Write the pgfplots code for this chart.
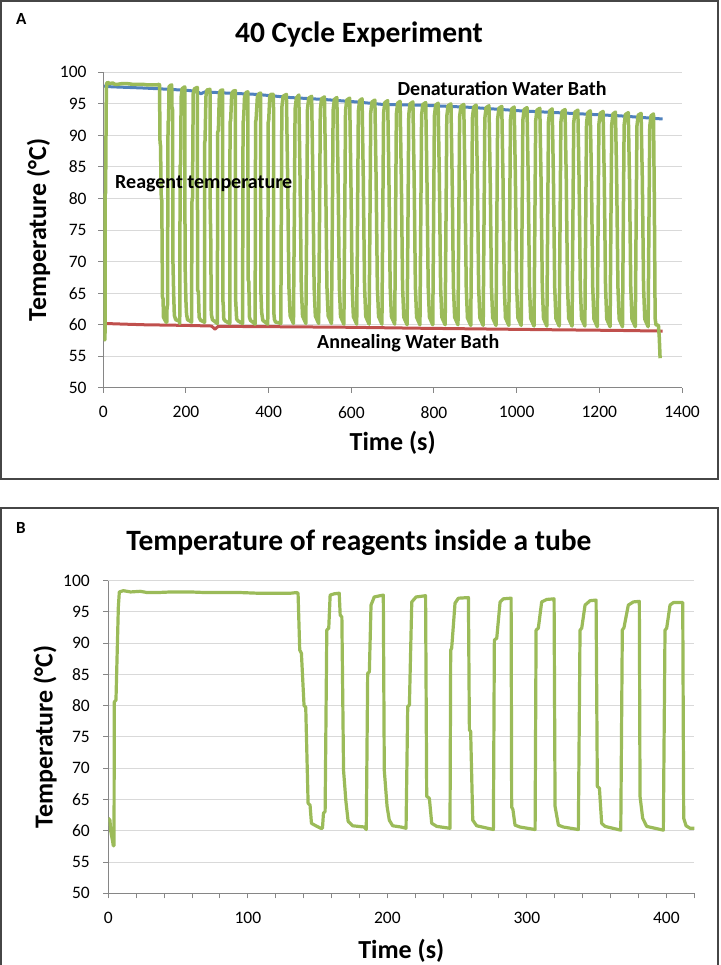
\documentclass[border=0pt]{standalone}
\usepackage{fontspec}
\setmainfont{Carlito}
\usepackage{pgfplots}
\pgfplotsset{compat=1.18}
\usepackage{pgfplotstable}
\definecolor{exgreen}{RGB}{155,187,89}
\definecolor{exblue}{RGB}{79,129,189}
\definecolor{exred}{RGB}{192,80,77}
\definecolor{gridgray}{RGB}{217,217,217}
\definecolor{axgray}{RGB}{134,134,134}
\definecolor{framegray}{RGB}{70,70,70}

\pgfplotstableread{
t T
0 62.0
1.2 61.7
1.7 60.0
3.1 58.3
3.6 57.6
4.1 57.6
4.3 80.6
5.5 80.9
7.2 95.8
7.9 98.2
10.8 98.4
16 98.2
22.8 98.3
28 98.1
34.8 98.1
45 98.2
58.8 98.2
70 98.1
82.7 98.1
95 98.1
106.7 98.0
120 98.0
130.7 98.0
135 98.1
136 98.0
137.2 88.9
138.4 88.4
140.3 80.0
141.5 79.8
143.2 64.4
144.6 64.1
145.6 61.2
148.7 60.8
152.3 60.4
153.5 60.4
154.2 62.8
155.4 63.1
156.6 92.1
158.0 92.4
159.0 97.7
161.9 97.9
165.5 98.0
166.2 94.5
167.4 94.2
168.6 69.7
170.3 64.7
171.9 61.5
175.1 60.8
183.5 60.6
184.9 60.2
185.9 85.2
187.1 85.4
188.3 96.1
190.6 97.4
197.1 97.7
197.8 69.7
199.8 63.9
201.4 61.7
203.8 60.8
209.8 60.6
213.4 60.4
214.6 79.9
215.8 80.1
217.5 96.6
220.6 97.4
224.2 97.5
227.4 97.6
228.2 65.5
230.1 65.2
231.8 61.2
235.4 60.7
244.9 60.4
245.4 88.9
246.1 89.2
248.5 96.4
250.9 97.2
258.1 97.3
258.8 76.1
259.7 75.9
261.2 61.7
264.0 60.8
276.0 60.2
276.7 90.5
278.4 90.8
280.8 96.6
283.2 97.1
288.7 97.2
289.1 63.8
290.0 63.4
291.5 60.9
295.1 60.6
305.9 60.2
306.6 92.1
308.2 92.4
310.6 96.6
314.2 97.0
319.5 97.1
320.2 63.9
322.6 60.9
326.2 60.6
336.9 60.2
338.1 92.1
339.3 92.4
341.7 96.1
345.3 96.8
349.6 96.9
350.5 67.1
352.0 66.8
353.6 61.2
356.0 60.7
367.3 60.1
368.4 92.1
369.6 92.5
372.7 96.1
376.3 96.6
380.6 96.7
381.1 65.5
383.0 62.0
385.9 60.7
397.8 60.1
399.0 92.1
400.2 92.4
402.6 96.1
405.0 96.5
411.7 96.5
412.4 62.0
414.1 60.8
417.0 60.4
420.1 60.4
}\greenB

\pgfplotstableread{
t T
420.1 60.4
429.5 60.2
430.5 76
432 94.5
435 96.2
443 96.5
446 83
449 66
452 61.4
460 60.2
462 76
464 94.2
467 95.9
473 96.4
476 83
479 66
482 61.4
490 60.2
492 76
494 94.2
497 95.9
504 96.2
507 83
510 66
513 61.4
521 60.2
523 76
525 94.1
528 95.8
535 96.1
538 83
541 66
544 61.4
552 60.2
554 76
556 94.0
559 95.7
565 96.0
568 83
571 66
574 61.3
582 60.1
584 76
586 93.9
589 95.6
596 95.9
599 83
602 66
605 61.3
613 60.1
615 76
617 93.8
620 95.5
626 95.8
629 83
632 66
635 61.3
643 60.1
645 76
647 93.6
650 95.3
657 95.6
660 83
663 66
666 61.3
674 60.1
676 76
678 93.5
681 95.2
688 95.5
691 83
694 66
697 61.3
705 60.1
707 76
709 93.4
712 95.1
718 95.4
721 83
724 66
727 61.2
735 60.0
737 76
739 93.3
742 95.0
749 95.3
752 83
755 66
758 61.2
766 60.0
768 76
770 93.2
773 94.9
780 95.2
783 83
786 66
789 61.2
797 60.0
799 76
801 93.1
804 94.8
810 95.1
813 83
816 66
819 61.2
827 60.0
829 76
831 93.0
834 94.7
841 95.0
844 83
847 66
850 61.2
858 60.0
860 76
862 92.9
865 94.6
872 94.9
875 83
878 66
881 61.1
889 59.9
891 76
893 92.8
896 94.5
902 94.8
905 83
908 66
911 61.1
919 59.9
921 76
923 92.7
926 94.4
933 94.7
936 83
939 66
942 61.1
950 59.9
952 76
954 92.6
957 94.3
964 94.6
967 83
970 66
973 61.1
981 59.9
983 76
985 92.5
988 94.2
994 94.5
997 83
1000 66
1003 61.1
1011 59.9
1013 76
1015 92.4
1018 94.1
1025 94.4
1028 83
1031 66
1034 61.0
1042 59.8
1044 76
1046 92.3
1049 94.0
1056 94.3
1059 83
1062 66
1065 61.0
1073 59.8
1075 76
1077 92.2
1080 93.9
1086 94.2
1089 83
1092 66
1095 61.0
1103 59.8
1105 76
1107 92.1
1110 93.8
1117 94.1
1120 83
1123 66
1126 61.0
1134 59.8
1136 76
1138 92.0
1141 93.7
1148 94.0
1151 83
1154 66
1157 61.0
1165 59.8
1167 76
1169 91.9
1172 93.6
1178 93.9
1181 83
1184 66
1187 60.9
1195 59.7
1197 76
1199 91.8
1202 93.5
1209 93.8
1212 83
1215 66
1218 60.9
1226 59.7
1228 76
1230 91.7
1233 93.4
1239 93.7
1242 83
1245 66
1248 60.9
1256 59.7
1258 76
1260 91.6
1263 93.3
1270 93.6
1273 83
1276 66
1279 60.9
1287 59.7
1289 76
1291 91.5
1294 93.2
1301 93.5
1304 83
1307 66
1310 60.9
1318 59.7
1320 76
1322 91.4
1325 93.1
1331 93.4
1333 80
1335 61
1337 60.0
1343 59.9
1345 58
1347 54.7
}\greenArest

\pgfplotstableread{
t T
2 97.8
20 97.7
60 97.6
100 97.5
130 97.4
160 97.3
210 97.1
228 96.9
236 96.6
246 96.9
300 96.7
371 96.5
452 96.0
532 95.7
613 95.3
677 94.9
766 94.8
887 94.45
1008 93.9
1129 93.5
1250 93.1
1353 92.6
}\blueA

\pgfplotstableread{
t T
5 60.2
50 60.1
100 60.0
150 59.95
200 59.9
262 59.8
270 59.3
278 59.75
400 59.7
600 59.6
766 59.45
900 59.35
1100 59.2
1250 59.1
1353 59.0
}\redA

\pgfplotsset{excel/.style={
  scale only axis,
  ymin=50, ymax=100, ytick distance=5,
  axis x line*=bottom, axis y line*=left,
  axis line style={axgray, line width=1pt},
  tick style={axgray, line width=1pt},
  tick align=outside,
  major tick length=5pt, minor tick length=5pt,
  ymajorgrids,
  major grid style={gridgray, line width=1pt},
  ticklabel style={font=\fontsize{17.5}{20}\selectfont, text=black},
  /pgf/number format/assume math mode=true,
  /pgf/number format/1000 sep={},
  xticklabel style={anchor=north, inner sep=0pt, yshift=-13.3pt},
  label style={font=\fontsize{26}{30}\selectfont\bfseries, text=black},
  line join=round,
}}

\begin{document}
\begin{tikzpicture}[x=1pt,y=1pt]
\useasboundingbox (0,0) rectangle (720,965);
\draw[framegray, line width=1.5pt] (1,964) rectangle (718,486);
\draw[framegray, line width=1.5pt] (1,457) rectangle (718,-3);

\node[anchor=base west, font=\fontsize{17}{20}\selectfont\bfseries] at (12.7,940) {A};
\node[anchor=base west, font=\fontsize{17}{20}\selectfont\bfseries] at (12.7,431) {B};
\node[anchor=base, font=\fontsize{29.5}{34}\selectfont\bfseries] at (359,922.5) {40 Cycle Experiment};
\node[anchor=base, font=\fontsize{29.5}{34}\selectfont\bfseries] at (359,414.5) {Temperature of reagents inside a tube};

\begin{axis}[excel,
  at={(103.3pt,577.1pt)}, anchor=south west,
  width=578.7pt, height=315.6pt,
  xmin=0, xmax=1400, xtick distance=200,
  yticklabel style={anchor=east, inner sep=0pt, xshift=-11.6pt},
  xlabel={Time (s)}, ylabel={Temperature (°C)},
  xlabel style={at={(axis description cs:0.5,-0.1755)}, anchor=center},
  ylabel style={at={(axis description cs:-0.1121,0.5)}, anchor=center},
]
\addplot[exblue, line width=3pt] table {\blueA};
\addplot[exred, line width=3pt] table {\redA};
\addplot[exgreen, line width=3.5pt] table {\greenB};
\addplot[exgreen, line width=3.5pt] table {\greenArest};
\node[anchor=base west, font=\fontsize{20}{24}\selectfont\bfseries] at (axis cs:20.3,81.6) {Reagent temperature};
\node[anchor=base west, font=\fontsize{20}{24}\selectfont\bfseries] at (axis cs:703.4,96.3) {Denaturation Water Bath};
\node[anchor=base west, font=\fontsize{20}{24}\selectfont\bfseries] at (axis cs:508.8,56.26) {Annealing Water Bath};
\end{axis}

\begin{axis}[excel,
  at={(108.3pt,71.7pt)}, anchor=south west,
  width=586pt, height=312.6pt,
  xmin=0, xmax=420, xtick={0,100,200,300,400},
  minor xtick={20,40,60,80,120,140,160,180,220,240,260,280,320,340,360,380,420},
  yticklabel style={anchor=east, inner sep=0pt, xshift=-13.3pt},
  xlabel={Time (s)}, ylabel={Temperature (°C)},
  xlabel style={at={(axis description cs:0.5,-0.1836)}, anchor=center},
  ylabel style={at={(axis description cs:-0.108,0.5)}, anchor=center},
]
\addplot[exgreen, line width=3.2pt] table {\greenB};
\end{axis}
\end{tikzpicture}
\end{document}
